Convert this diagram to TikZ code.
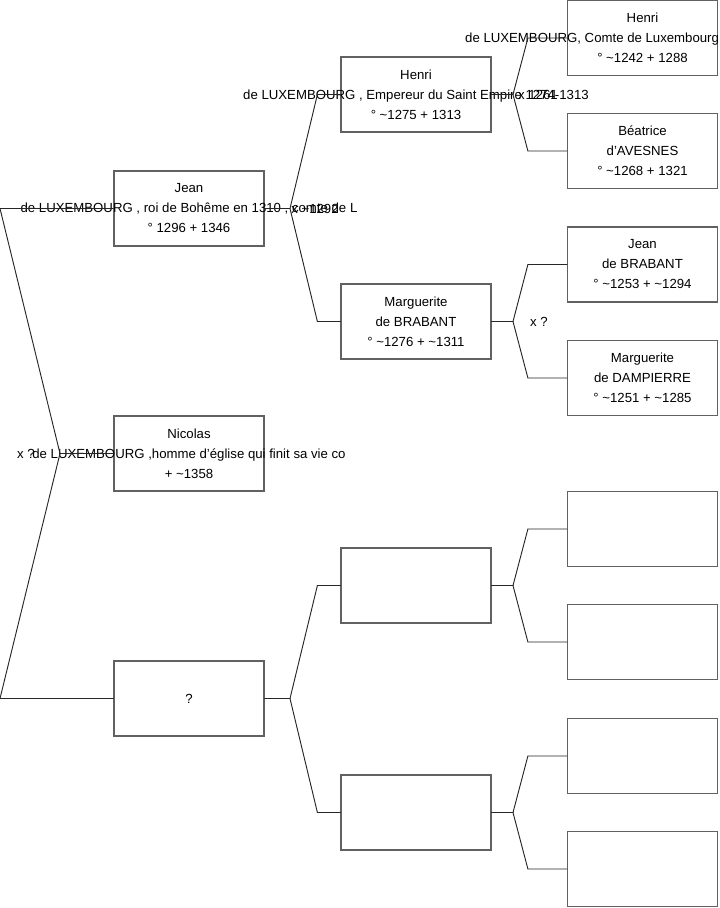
\documentclass[tikz,border=0pt]{standalone}
\usepackage{fontspec}
\setmainfont{Liberation Sans}
\usetikzlibrary{calc}
\newcommand{\env}{\textasciitilde}

\begin{document}
\begin{tikzpicture}[x=0.75pt,y=-0.75pt,font=\fontsize{9.9}{15}\selectfont,line cap=round,
  person/.style={draw=black!62,line width=0.9pt,minimum width=112.5pt,minimum height=56.25pt,inner sep=0pt},
  who/.style={align=center,inner sep=0pt},
  link/.style={draw=black!85,line width=0.7pt},
  union/.style={inner sep=0pt}]
\useasboundingbox (0,0) rectangle (719,908);
% generation 1
\node[person] (jean) at (189,208.5) {};
\node[who] (jeantxt) at (jean) {Jean\\de LUXEMBOURG , roi de Bohême en 1310 , comte de L\\° 1296 + 1346};
\node[person] (nicolas) at (189,453.5) {};
\node[who] (nicolastxt) at (nicolas) {Nicolas\\de LUXEMBOURG ,homme d'église qui finit sa vie co\\+ \env1358};
\node[person] (inconnu) at (189,698.5) {};
\node[who] (inconnutxt) at (inconnu) {?};
% generation 2
\node[person] (henri) at (416,94.5) {};
\node[who] (henritxt) at (henri) {Henri\\de LUXEMBOURG , Empereur du Saint Empire 1274-1313\\° \env1275 + 1313};
\node[person] (margb) at (416,321.5) {};
\node[who] (margbtxt) at (margb) {Marguerite\\de BRABANT\\° \env1276 + \env1311};
\node[person] (vide21) at (416,585.5) {};
\node[person] (vide22) at (416,812.5) {};
% generation 3
\node[person] (henric) at (642.5,38) {};
\node[who] (henrictxt) at (henric) {Henri\\\makebox[266pt][l]{de LUXEMBOURG, Comte de Luxembourg}\\° \env1242 + 1288};
\node[person] (beat) at (642.5,151) {};
\node[who] (beattxt) at (beat) {Béatrice\\d'AVESNES\\° \env1268 + 1321};
\node[person] (jeanb) at (642.5,264.5) {};
\node[who] (jeanbtxt) at (jeanb) {Jean\\de BRABANT\\° \env1253 + \env1294};
\node[person] (margd) at (642.5,378) {};
\node[who] (margdtxt) at (margd) {Marguerite\\de DAMPIERRE\\° \env1251 + \env1285};
\node[person] (vide31) at (642.5,529) {};
\node[person] (vide32) at (642.5,642) {};
\node[person] (vide33) at (642.5,756) {};
\node[person] (vide34) at (642.5,869) {};
% forks
\coordinate (lj) at (0,208.5);
\coordinate (lf) at (60,453.5);
\coordinate (lq) at (0,698.5);
\draw[link] (jean.west) -- (lj) -- (lf) -- (lq) -- (inconnu.west);
\draw[link] (lf) -- (nicolas.west);
\node[union] (ux0) at (26,453.5) {x ?};

\coordinate (fj) at (290,208.5);
\draw[link] (jean.east) -- (fj);
\draw[link] (fj) -- ($(henri.west)+(-23,0)$) -- (henri.west);
\draw[link] (fj) -- ($(margb.west)+(-23,0)$) -- (margb.west);
\node[union] (ux1) at (315,208.5) {x \env1292};

\coordinate (fi) at (290,698.5);
\draw[link] (inconnu.east) -- (fi);
\draw[link] (fi) -- ($(vide21.west)+(-23,0)$) -- (vide21.west);
\draw[link] (fi) -- ($(vide22.west)+(-23,0)$) -- (vide22.west);

\coordinate (fh) at (513,94.5);
\draw[link] (henri.east) -- (fh);
\draw[link] (fh) -- ($(henric.west)+(-39,0)$) -- (henric.west);
\draw[link] (fh) -- ($(beat.west)+(-39,0)$) -- (beat.west);
\node[union] (ux2) at (538,94.5) {x 1261};

\coordinate (fm) at (513,321.5);
\draw[link] (margb.east) -- (fm);
\draw[link] (fm) -- ($(jeanb.west)+(-39,0)$) -- (jeanb.west);
\draw[link] (fm) -- ($(margd.west)+(-39,0)$) -- (margd.west);
\node[union] (ux3) at (539,321.5) {x ?};

\coordinate (fv1) at (513,585.5);
\draw[link] (vide21.east) -- (fv1);
\draw[link] (fv1) -- ($(vide31.west)+(-39,0)$) -- (vide31.west);
\draw[link] (fv1) -- ($(vide32.west)+(-39,0)$) -- (vide32.west);

\coordinate (fv2) at (513,812.5);
\draw[link] (vide22.east) -- (fv2);
\draw[link] (fv2) -- ($(vide33.west)+(-39,0)$) -- (vide33.west);
\draw[link] (fv2) -- ($(vide34.west)+(-39,0)$) -- (vide34.west);
\end{tikzpicture}
\end{document}
